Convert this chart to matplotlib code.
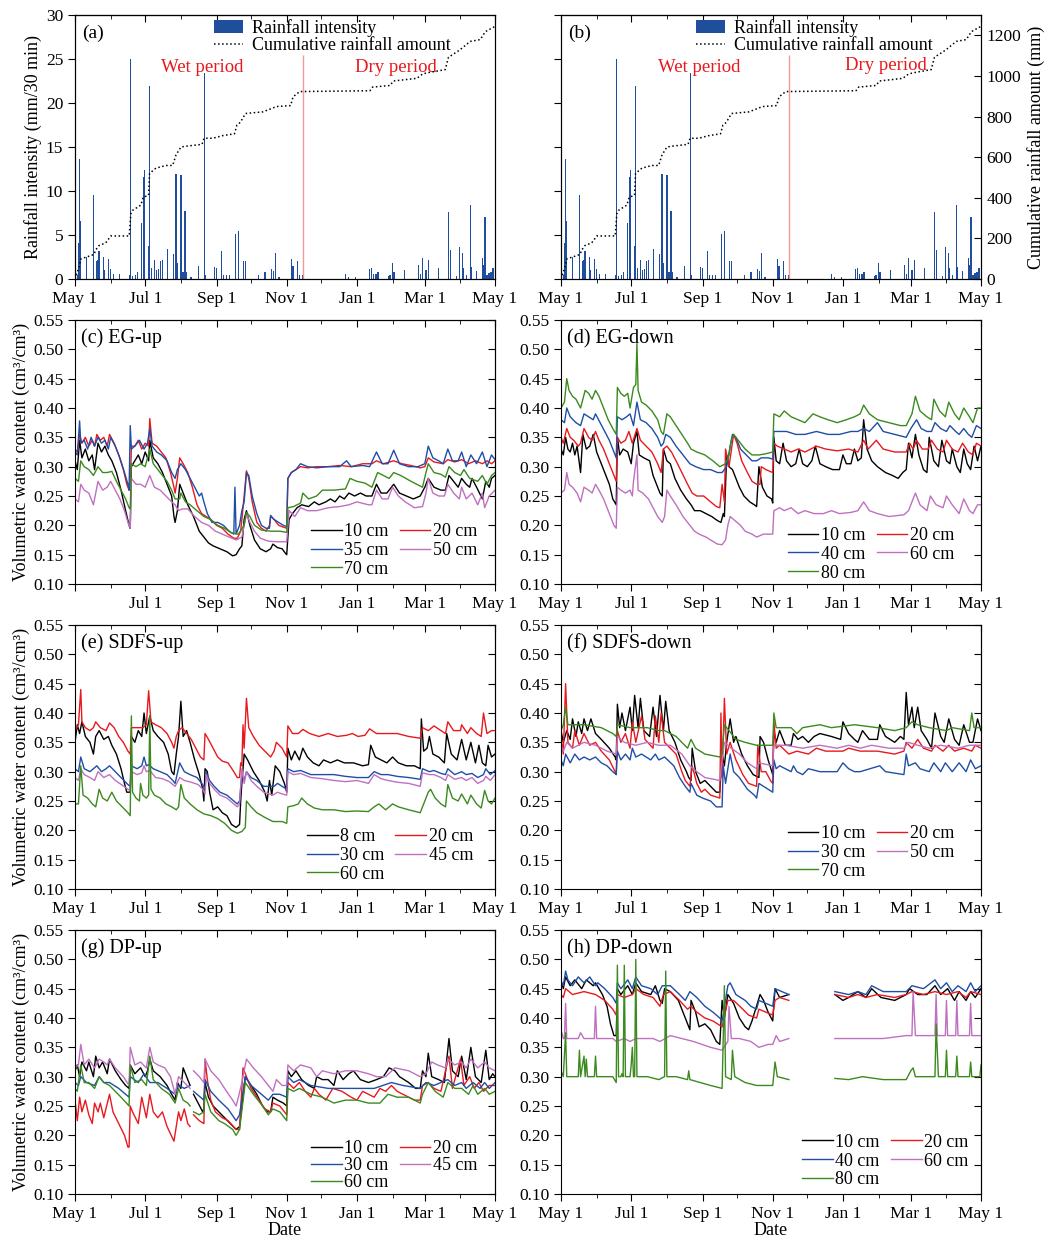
import numpy as np
import matplotlib
matplotlib.use("Agg")
import matplotlib.pyplot as plt
from matplotlib.patches import Patch
from matplotlib.lines import Line2D

plt.rcParams['font.family'] = ['Liberation Serif', 'DejaVu Serif']
plt.rcParams['font.size'] = 13

gap = float('nan')

# days counted from May 1
major_days = [0, 61, 123, 184, 245, 304, 365]
major_labels = ['May 1', 'Jul 1', 'Sep 1', 'Nov 1', 'Jan 1', 'Mar 1', 'May 1']
minor_days = [31, 92, 153, 214, 276, 335]
split_day = 198  # wet / dry boundary

# rainfall intensity (mm/30 min)
rain_day = [0, 2.3, 3.5, 4.1, 4.9, 9.9, 16.3, 18.6, 19.8, 20.9, 24.4, 25.6, 29.1, 30.8, 33.1, 38.4,
            47.1, 48.5, 50.0, 52.3, 54.1, 58.1, 59.3, 60.2, 63.6, 64.8, 66.8, 69.2, 70.9, 72.7, 74.4,
            76.1, 80.5, 85.4, 87.8, 88.6, 91.5, 92.1, 93.9, 95.6, 96.8, 100.8, 107.5, 112.2, 113.3,
            121.5, 123.2, 127.3, 129.0, 131.4, 134.3, 139.5, 142.4, 146.8, 148.2, 159.8, 165.1,
            170.9, 172.6, 174.4, 177.3, 188.3, 189.5, 193.0, 195.3, 197.6, 235.1, 237.7, 243.5,
            256.3, 257.5, 259.2, 261.6, 263.3, 272.3, 273.8, 276.1, 277.2, 286.5, 298.5, 299.9,
            302.2, 304.6, 305.7, 307.5, 316.2, 324.4, 326.1, 331.9, 334.2, 336.5, 337.7, 340.6,
            343.5, 344.9, 348.7, 354.0, 355.1, 356.3, 358.0, 359.8, 361.5, 363.3]
rain_mm = [12.8, 0.5, 4.1, 13.6, 6.6, 2.5, 9.5, 2.0, 2.2, 3.2, 2.5, 1.0, 2.3, 1.1, 0.6, 0.6,
           0.4, 25.0, 0.3, 0.5, 0.8, 6.4, 11.6, 12.4, 3.7, 21.9, 1.2, 2.2, 1.0, 1.1, 2.0,
           2.2, 3.4, 2.8, 11.9, 1.8, 5.8, 11.8, 0.8, 7.7, 0.8, 0.2, 1.5, 23.4, 0.5,
           1.4, 1.3, 3.2, 0.4, 0.4, 0.4, 5.1, 5.5, 2.1, 2.1, 0.4, 0.8,
           1.1, 0.9, 3.0, 0.2, 2.3, 1.5, 2.1, 0.5, 0.4, 0.6, 0.2, 0.2,
           1.1, 1.2, 0.6, 0.6, 0.8, 0.3, 0.4, 1.8, 0.8, 1.0, 1.6, 0.6,
           2.4, 1.0, 1.0, 2.2, 1.2, 7.6, 3.3, 0.3, 3.6, 3.0, 1.3, 0.5,
           8.4, 1.4, 0.9, 2.4, 1.6, 7.0, 0.4, 0.7, 0.8, 1.3]

# cumulative rainfall amount (mm)
cum_day = [0, 0.6, 3.5, 5.2, 9.9, 16.6, 18.0, 20.9, 26.7, 31.1, 47.1, 48.5, 50.0, 57.3, 59.3, 63.9,
           64.8, 70.3, 79.0, 84.9, 87.8, 92.1, 96.5, 110.4, 112.2, 119.7, 128.4, 138.6, 140.7,
           143.6, 148.2, 163.3, 171.5, 174.9, 187.4, 189.5, 195.3, 256.3, 258.6, 273.8, 276.7,
           297.0, 302.2, 308.6, 321.7, 324.6, 334.2, 343.5, 352.2, 356.6, 365]
cum_mm = [0, 9, 61, 100, 108, 121, 143, 165, 178, 212, 212, 321, 338, 364, 403, 412,
          520, 546, 559, 559, 611, 650, 654, 663, 693, 693, 706, 715, 758,
          771, 815, 823, 841, 849, 854, 897, 923, 927, 945, 953, 975,
          988, 1010, 1018, 1031, 1092, 1127, 1170, 1179, 1218, 1244]

# (c) EG-up
c_depths = ['10 cm', '20 cm', '35 cm', '50 cm', '70 cm']
c_10 = [(0,.31),(2,.295),(4,.345),(6,.315),(9,.33),(12,.31),(15,.32),(17,.295),(20,.34),(23,.325),(26,.335),(29,.32),(32,.31),(36,.29),(40,.26),(44,.225),(47,.20),(48,.195),(49,.30),(52,.31),(55,.32),(58,.305),(61,.325),(64,.31),(65,.345),(68,.315),(72,.305),(76,.29),(80,.27),(84,.25),(86,.215),(87,.205),(89,.225),(91,.27),(94,.255),(98,.235),(103,.215),(108,.19),(112,.18),(116,.17),(120,.165),(126,.16),(132,.155),(137,.148),(140,.15),(143,.16),(145,.165),(147,.21),(149,.225),(152,.20),(156,.175),(161,.16),(166,.155),(170,.16),(172,.168),(176,.162),(180,.16),(183,.152),(184,.15),(186,.21),(189,.22),(193,.23),(197,.235),(203,.232),(208,.24),(212,.235),(218,.24),(222,.245),(226,.24),(230,.25),(234,.245),(238,.255),(243,.25),(248,.255),(253,.25),(258,.25),(262,.27),(266,.255),(271,.255),(277,.27),(282,.255),(288,.25),(294,.245),(300,.25),(304,.265),(307,.28),(312,.265),(318,.26),(322,.26),(325,.285),(329,.275),(333,.265),(336,.28),(340,.27),(343,.265),(345,.28),(349,.265),(354,.245),(357,.275),(360,.265),(362,.28),(365,.285)]
c_20 = [(0,.33),(2,.325),(4,.355),(6,.34),(9,.35),(12,.335),(15,.345),(17,.335),(19,.355),(22,.345),(25,.35),(28,.335),(30,.355),(34,.34),(38,.32),(42,.295),(45,.27),(47,.26),(48,.26),(49,.335),(52,.335),(55,.345),(58,.33),(61,.34),(64,.335),(65,.382),(67,.34),(71,.335),(75,.325),(79,.315),(83,.29),(86,.265),(87,.255),(89,.28),(91,.315),(94,.305),(98,.29),(102,.265),(106,.235),(110,.22),(114,.215),(118,.21),(123,.2),(128,.195),(133,.185),(138,.178),(141,.178),(144,.19),(147,.25),(149,.293),(151,.28),(154,.24),(158,.205),(162,.195),(166,.19),(169,.2),(170,.215),(173,.21),(177,.2),(181,.197),(184,.195),(185,.28),(188,.29),(192,.295),(196,.3),(202,.298),(210,.3),(220,.3),(230,.302),(240,.3),(250,.305),(258,.305),(262,.31),(268,.305),(277,.31),(284,.305),(292,.302),(300,.298),(304,.3),(307,.315),(312,.308),(320,.305),(324,.312),(330,.308),(336,.312),(342,.305),(348,.31),(354,.305),(358,.31),(362,.305),(365,.31)]
c_35 = [(0,.325),(2,.32),(4,.378),(5,.34),(8,.345),(11,.33),(14,.35),(17,.335),(20,.35),(23,.34),(26,.345),(29,.33),(31,.35),(35,.335),(39,.315),(43,.29),(46,.27),(47,.26),(48,.37),(49,.33),(52,.335),(56,.345),(60,.33),(63,.34),(65,.365),(67,.335),(71,.325),(75,.32),(80,.31),(84,.29),(87,.28),(89,.295),(92,.305),(96,.295),(100,.28),(104,.265),(108,.25),(110,.255),(112,.24),(115,.22),(119,.205),(124,.205),(129,.2),(134,.19),(138,.185),(139,.265),(140,.185),(143,.2),(145,.225),(147,.24),(149,.29),(151,.285),(154,.25),(158,.22),(162,.2),(166,.195),(169,.195),(170,.217),(173,.21),(177,.205),(181,.2),(184,.198),(185,.28),(188,.29),(192,.295),(196,.305),(202,.3),(210,.298),(220,.3),(230,.3),(236,.31),(240,.3),(250,.302),(256,.3),(262,.325),(267,.305),(272,.305),(277,.328),(282,.305),(290,.3),(298,.3),(304,.305),(307,.335),(311,.315),(316,.31),(320,.305),(324,.33),(328,.31),(333,.31),(336,.325),(340,.3),(344,.32),(349,.305),(354,.325),(358,.3),(362,.32),(365,.312)]
c_50 = [(0,.245),(3,.24),(5,.27),(8,.26),(12,.255),(16,.235),(20,.275),(24,.26),(28,.265),(31,.275),(35,.26),(39,.245),(43,.225),(46,.205),(48,.195),(49,.28),(53,.27),(57,.27),(61,.265),(65,.285),(69,.265),(74,.26),(79,.25),(84,.24),(87,.235),(90,.225),(93,.228),(98,.228),(104,.215),(110,.205),(116,.2),(122,.19),(128,.185),(134,.18),(140,.175),(145,.18),(149,.22),(152,.205),(156,.19),(161,.178),(168,.173),(176,.172),(184,.172),(186,.225),(191,.215),(196,.23),(202,.225),(210,.225),(220,.23),(230,.232),(238,.235),(245,.24),(255,.235),(258,.235),(262,.26),(267,.245),(272,.245),(276,.265),(281,.25),(287,.24),(295,.23),(302,.232),(305,.255),(307,.28),(311,.255),(316,.25),(321,.25),(324,.27),(329,.255),(334,.245),(336,.265),(340,.245),(345,.255),(350,.235),(354,.255),(356,.23),(360,.25),(365,.26)]
c_70 = [(0,.28),(3,.275),(5,.31),(8,.3),(12,.295),(16,.285),(20,.3),(24,.29),(28,.29),(32,.292),(36,.275),(40,.26),(44,.245),(47,.23),(48,.228),(49,.305),(53,.3),(57,.305),(61,.3),(65,.33),(68,.305),(72,.295),(76,.285),(80,.275),(84,.26),(87,.245),(91,.245),(92,.255),(96,.24),(100,.235),(106,.225),(112,.215),(118,.21),(124,.2),(130,.195),(136,.187),(142,.185),(147,.2),(149,.222),(152,.215),(156,.2),(162,.192),(170,.19),(178,.19),(184,.188),(185,.23),(190,.232),(196,.238),(198,.255),(203,.245),(210,.25),(215,.26),(225,.26),(235,.262),(239,.28),(245,.275),(252,.272),(258,.265),(263,.29),(268,.285),(273,.28),(277,.29),(283,.285),(292,.275),(302,.265),(305,.29),(307,.305),(312,.29),(318,.287),(322,.282),(325,.3),(330,.29),(335,.285),(338,.295),(343,.28),(350,.275),(354,.285),(358,.27),(362,.285),(365,.29)]

# (d) EG-down
d_depths = ['10 cm', '20 cm', '40 cm', '60 cm', '80 cm']
d_10 = [(0,.33),(2,.32),(4,.35),(6,.33),(8,.325),(10,.34),(12,.32),(14,.335),(16,.305),(17,.29),(19,.355),(22,.33),(25,.335),(28,.355),(31,.325),(34,.31),(38,.29),(42,.27),(45,.245),(48,.235),(49,.35),(51,.32),(54,.33),(58,.325),(61,.305),(63,.34),(66,.36),(68,.32),(72,.315),(77,.31),(80,.285),(83,.27),(86,.255),(88,.25),(89,.33),(92,.31),(95,.305),(99,.28),(104,.26),(109,.245),(113,.235),(116,.225),(121,.225),(126,.22),(131,.215),(136,.208),(139,.205),(141,.22),(142,.215),(144,.32),(146,.3),(149,.295),(152,.28),(155,.265),(159,.25),(164,.24),(168,.235),(170,.232),(172,.3),(175,.265),(179,.25),(183,.245),(184,.238),(185,.35),(187,.31),(190,.305),(193,.34),(196,.31),(200,.30),(204,.305),(207,.33),(210,.305),(214,.30),(218,.31),(221,.335),(225,.305),(230,.30),(236,.295),(242,.295),(245,.32),(248,.305),(252,.305),(255,.33),(258,.31),(261,.315),(263,.38),(266,.33),(270,.31),(275,.30),(282,.29),(288,.285),(293,.28),(297,.29),(300,.295),(302,.34),(305,.315),(308,.355),(311,.32),(315,.295),(318,.29),(320,.35),(324,.31),(328,.3),(331,.345),(335,.31),(338,.305),(340,.33),(344,.3),(347,.29),(350,.33),(353,.305),(356,.295),(359,.335),(362,.31),(365,.335)]
d_20 = [(0,.35),(2,.34),(5,.365),(8,.35),(11,.345),(15,.335),(17,.34),(20,.365),(24,.35),(27,.345),(30,.36),(33,.345),(37,.33),(41,.31),(45,.29),(48,.275),(49,.35),(52,.34),(56,.345),(59,.36),(62,.34),(66,.365),(69,.345),(74,.335),(79,.325),(84,.305),(87,.29),(89,.33),(92,.335),(96,.325),(100,.31),(105,.29),(110,.27),(114,.255),(118,.25),(124,.25),(130,.24),(135,.232),(138,.23),(140,.27),(142,.24),(143,.33),(146,.30),(150,.355),(153,.34),(157,.31),(162,.29),(166,.275),(170,.27),(173,.27),(174,.30),(178,.295),(184,.29),(185,.34),(188,.335),(194,.33),(200,.325),(206,.33),(212,.325),(222,.335),(230,.33),(240,.327),(250,.33),(258,.325),(263,.345),(267,.33),(274,.345),(280,.33),(290,.325),(300,.325),(303,.34),(306,.33),(309,.345),(314,.33),(319,.33),(322,.345),(327,.33),(332,.325),(335,.345),(340,.33),(345,.325),(349,.34),(354,.325),(358,.32),(361,.34),(365,.335)]
d_40 = [(0,.38),(3,.375),(5,.40),(8,.385),(13,.375),(17,.37),(20,.39),(24,.385),(28,.38),(30,.39),(34,.375),(38,.36),(42,.345),(46,.325),(48,.315),(49,.385),(53,.38),(57,.385),(60,.39),(63,.37),(66,.41),(69,.38),(74,.375),(79,.365),(84,.35),(87,.335),(89,.34),(91,.355),(95,.35),(100,.335),(106,.32),(112,.305),(117,.3),(124,.295),(130,.295),(136,.29),(140,.29),(144,.3),(147,.335),(149,.355),(152,.35),(156,.33),(161,.32),(166,.31),(170,.31),(174,.315),(180,.315),(184,.313),(185,.36),(190,.36),(196,.36),(204,.355),(212,.355),(222,.36),(232,.355),(242,.355),(252,.36),(258,.36),(263,.365),(268,.36),(275,.375),(280,.36),(290,.355),(300,.35),(304,.365),(309,.38),(313,.365),(318,.36),(322,.36),(325,.375),(330,.365),(335,.36),(338,.37),(343,.36),(346,.355),(350,.365),(354,.355),(357,.35),(361,.37),(365,.365)]
d_60 = [(0,.255),(3,.26),(5,.29),(7,.27),(10,.265),(14,.255),(17,.24),(20,.265),(24,.26),(27,.255),(30,.27),(33,.26),(37,.245),(42,.22),(46,.2),(48,.195),(49,.265),(52,.26),(56,.255),(60,.26),(62,.25),(63,.275),(66,.32),(67,.26),(71,.255),(76,.245),(80,.23),(84,.215),(88,.205),(90,.215),(92,.26),(95,.25),(100,.235),(106,.215),(112,.2),(116,.19),(120,.185),(126,.18),(130,.175),(136,.168),(140,.167),(143,.175),(145,.2),(147,.215),(150,.21),(156,.2),(160,.19),(166,.185),(170,.18),(176,.185),(184,.185),(185,.225),(190,.23),(194,.225),(200,.23),(206,.22),(212,.225),(220,.22),(228,.22),(235,.225),(242,.22),(252,.222),(258,.225),(263,.24),(268,.225),(275,.22),(285,.215),(298,.218),(302,.225),(308,.255),(312,.235),(318,.225),(321,.25),(326,.235),(332,.23),(335,.25),(340,.235),(346,.22),(350,.245),(355,.225),(358,.22),(362,.235),(365,.235)]
d_80 = [(0,.40),(3,.41),(5,.45),(7,.43),(10,.42),(13,.415),(17,.40),(21,.43),(24,.425),(27,.415),(30,.43),(33,.42),(37,.40),(41,.38),(45,.365),(48,.355),(49,.435),(52,.425),(55,.42),(58,.425),(60,.40),(63,.435),(65,.44),(66,.51),(67,.43),(70,.41),(74,.405),(79,.395),(84,.38),(87,.36),(89,.355),(92,.39),(95,.385),(100,.37),(105,.355),(110,.34),(113,.33),(118,.325),(125,.32),(132,.31),(138,.30),(143,.305),(146,.32),(148,.345),(150,.355),(154,.345),(160,.33),(166,.32),(172,.32),(178,.322),(184,.325),(185,.39),(190,.385),(194,.395),(200,.385),(206,.38),(212,.375),(219,.39),(225,.385),(232,.38),(240,.375),(248,.38),(255,.385),(260,.39),(263,.405),(268,.39),(275,.38),(285,.375),(295,.37),(300,.37),(305,.39),(308,.42),(312,.395),(318,.385),(322,.38),(324,.415),(329,.395),(334,.385),(337,.41),(342,.39),(346,.38),(350,.40),(355,.385),(358,.375),(362,.40),(365,.40)]

# (e) SDFS-up
e_depths = ['8 cm', '20 cm', '30 cm', '45 cm', '60 cm']
e_8 = [(0,.35),(2,.38),(4,.365),(6,.385),(9,.36),(13,.35),(16,.33),(18,.36),(21,.37),(25,.355),(29,.36),(32,.345),(36,.33),(40,.305),(43,.28),(45,.265),(48,.265),(49,.36),(52,.35),(55,.37),(58,.36),(60,.40),(62,.365),(65,.395),(68,.37),(72,.36),(77,.35),(81,.33),(84,.30),(86,.295),(88,.33),(90,.36),(92,.42),(94,.36),(97,.37),(100,.35),(104,.32),(108,.295),(111,.27),(112,.25),(113,.305),(115,.30),(117,.265),(120,.235),(124,.24),(128,.23),(132,.225),(136,.21),(140,.205),(143,.21),(144,.25),(145,.28),(147,.33),(150,.32),(155,.30),(160,.285),(165,.265),(167,.25),(169,.285),(171,.26),(174,.31),(178,.30),(182,.28),(184,.265),(185,.34),(188,.32),(191,.335),(195,.32),(198,.34),(202,.325),(207,.315),(212,.31),(216,.32),(222,.315),(228,.32),(234,.315),(242,.315),(250,.31),(255,.312),(257,.345),(261,.325),(266,.32),(271,.315),(276,.325),(281,.315),(288,.31),(295,.31),(300,.305),(301,.39),(303,.335),(306,.34),(308,.36),(311,.33),(316,.325),(321,.315),(323,.365),(327,.33),(332,.32),(336,.355),(340,.32),(344,.35),(348,.315),(351,.345),(354,.315),(357,.31),(359,.345),(362,.325),(365,.33)]
e_20 = [(0,.37),(3,.38),(5,.44),(6,.385),(9,.375),(13,.37),(16,.375),(18,.385),(22,.375),(27,.37),(30,.383),(34,.375),(38,.36),(42,.35),(46,.335),(48,.33),(49,.375),(54,.375),(59,.375),(62,.38),(64,.438),(66,.385),(70,.38),(75,.375),(80,.365),(84,.35),(86,.34),(88,.36),(90,.37),(93,.375),(97,.365),(101,.355),(105,.34),(109,.325),(112,.32),(113,.365),(116,.355),(120,.34),(124,.325),(128,.318),(133,.315),(138,.3),(141,.29),(143,.29),(144,.315),(145,.31),(146,.38),(147,.34),(149,.425),(151,.375),(155,.36),(160,.345),(165,.335),(170,.325),(173,.335),(175,.35),(180,.34),(184,.325),(185,.378),(189,.365),(194,.365),(198,.372),(204,.365),(212,.36),(220,.365),(228,.36),(236,.362),(241,.365),(246,.36),(252,.362),(256,.373),(262,.365),(270,.365),(280,.365),(290,.36),(300,.357),(302,.375),(307,.37),(312,.378),(318,.37),(322,.365),(324,.385),(329,.37),(335,.37),(336,.38),(341,.365),(344,.375),(349,.365),(353,.36),(355,.40),(358,.365),(362,.37),(365,.37)]
e_30 = [(0,.305),(3,.30),(5,.325),(8,.305),(13,.30),(16,.305),(19,.31),(23,.30),(27,.305),(30,.31),(35,.30),(41,.288),(46,.278),(48,.275),(49,.31),(54,.305),(58,.31),(60,.325),(62,.31),(64,.312),(68,.305),(74,.3),(80,.295),(85,.285),(87,.28),(91,.315),(95,.30),(100,.295),(106,.29),(111,.278),(113,.27),(114,.3),(117,.285),(121,.275),(126,.265),(132,.26),(138,.25),(141,.245),(143,.25),(145,.295),(147,.285),(149,.30),(153,.29),(158,.285),(164,.275),(170,.275),(173,.275),(176,.28),(180,.275),(184,.27),(185,.305),(190,.3),(196,.302),(205,.295),(215,.295),(225,.295),(235,.292),(245,.29),(255,.29),(260,.3),(266,.295),(272,.295),(280,.292),(290,.29),(300,.287),(302,.305),(308,.3),(312,.302),(318,.297),(322,.295),(324,.305),(330,.295),(336,.3),(340,.295),(345,.297),(350,.29),(355,.295),(357,.305),(361,.295),(365,.302)]
e_45 = [(0,.29),(3,.285),(5,.305),(8,.295),(13,.29),(17,.285),(20,.30),(25,.29),(30,.295),(35,.285),(41,.277),(46,.27),(48,.268),(49,.30),(54,.295),(58,.298),(60,.31),(62,.30),(65,.302),(70,.29),(76,.288),(82,.283),(87,.275),(91,.29),(95,.285),(101,.282),(107,.278),(111,.27),(113,.262),(114,.295),(117,.28),(121,.27),(126,.26),(132,.255),(138,.245),(141,.24),(143,.245),(145,.305),(147,.28),(149,.30),(153,.285),(158,.275),(164,.265),(172,.26),(176,.265),(180,.262),(184,.26),(185,.30),(190,.295),(196,.297),(205,.29),(215,.288),(225,.285),(235,.283),(245,.285),(255,.28),(260,.295),(266,.288),(272,.285),(280,.282),(290,.28),(300,.275),(302,.298),(308,.295),(312,.295),(318,.29),(322,.285),(324,.295),(330,.287),(336,.29),(340,.285),(345,.29),(350,.28),(355,.285),(357,.292),(361,.285),(365,.295)]
e_60 = [(0,.245),(3,.245),(5,.31),(7,.26),(11,.255),(15,.245),(18,.24),(21,.27),(24,.255),(28,.25),(32,.265),(36,.25),(41,.24),(46,.23),(48,.225),(49,.395),(50,.265),(53,.255),(56,.25),(57,.28),(59,.26),(62,.255),(64,.26),(65,.395),(66,.27),(69,.26),(74,.255),(79,.245),(84,.24),(88,.235),(90,.24),(92,.278),(95,.255),(100,.245),(106,.235),(112,.228),(118,.225),(124,.22),(130,.212),(136,.2),(141,.195),(145,.198),(148,.205),(149,.25),(153,.24),(158,.23),(165,.222),(172,.215),(180,.215),(184,.212),(185,.24),(190,.242),(194,.245),(197,.255),(202,.245),(208,.238),(215,.235),(225,.235),(235,.232),(245,.233),(255,.232),(260,.24),(264,.245),(270,.235),(276,.245),(281,.24),(290,.235),(300,.23),(303,.245),(307,.265),(309,.27),(313,.255),(318,.245),(322,.24),(324,.278),(328,.255),(333,.25),(336,.262),(341,.245),(344,.26),(349,.245),(353,.238),(356,.268),(359,.25),(362,.245),(365,.255)]

# (f) SDFS-down
f_depths = ['10 cm', '20 cm', '30 cm', '50 cm', '70 cm']
f_10 = [(0,.37),(2,.35),(5,.37),(8,.355),(10,.39),(13,.36),(15,.385),(18,.365),(20,.39),(23,.37),(26,.39),(30,.365),(35,.355),(42,.34),(47,.325),(48,.32),(49,.415),(51,.375),(53,.40),(56,.37),(60,.41),(62,.37),(64,.43),(67,.375),(69,.425),(72,.37),(77,.36),(80,.41),(83,.36),(86,.43),(89,.37),(91,.42),(94,.37),(99,.35),(104,.32),(109,.30),(111,.29),(113,.285),(114,.34),(117,.30),(121,.28),(125,.285),(130,.275),(135,.265),(138,.265),(140,.33),(142,.31),(144,.35),(147,.39),(150,.35),(152,.36),(157,.33),(162,.31),(167,.295),(172,.29),(173,.36),(176,.35),(180,.32),(184,.295),(185,.37),(187,.35),(190,.37),(195,.345),(200,.345),(202,.365),(206,.355),(210,.36),(215,.35),(220,.36),(225,.365),(235,.36),(243,.355),(245,.385),(250,.365),(255,.355),(258,.35),(262,.37),(268,.355),(275,.355),(277,.38),(282,.36),(290,.35),(295,.36),(298,.355),(300,.435),(302,.38),(305,.41),(307,.375),(310,.41),(313,.37),(318,.355),(322,.34),(325,.40),(330,.36),(333,.35),(337,.39),(342,.355),(346,.345),(350,.38),(355,.35),(358,.35),(362,.39),(365,.37)]
f_20 = [(0,.36),(2,.33),(4,.45),(6,.35),(10,.34),(12,.37),(16,.345),(20,.365),(25,.345),(30,.35),(35,.335),(42,.32),(47,.30),(48,.295),(49,.37),(52,.35),(56,.365),(60,.34),(62,.385),(65,.35),(70,.395),(73,.355),(80,.34),(82,.395),(85,.35),(87,.40),(90,.35),(100,.33),(105,.30),(108,.285),(112,.275),(114,.31),(118,.28),(122,.265),(125,.27),(130,.26),(138,.255),(139,.40),(140,.29),(142,.425),(144,.33),(147,.35),(152,.32),(158,.295),(163,.28),(170,.275),(171,.345),(174,.30),(178,.30),(182,.285),(184,.28),(185,.385),(187,.34),(190,.345),(198,.33),(205,.335),(215,.33),(222,.34),(230,.335),(245,.335),(250,.34),(260,.335),(275,.335),(290,.33),(298,.335),(300,.35),(305,.34),(310,.355),(315,.34),(322,.335),(325,.345),(332,.335),(337,.345),(342,.335),(350,.34),(357,.335),(360,.345),(365,.34)]
f_30 = [(0,.32),(2,.31),(4,.33),(8,.315),(12,.33),(16,.32),(20,.325),(25,.32),(30,.325),(35,.315),(40,.31),(45,.30),(48,.295),(49,.335),(52,.32),(56,.33),(60,.32),(62,.34),(65,.325),(70,.33),(78,.32),(82,.33),(85,.32),(90,.325),(98,.31),(103,.29),(108,.275),(112,.265),(113,.28),(118,.26),(123,.255),(130,.25),(135,.24),(140,.24),(141,.31),(143,.28),(147,.33),(150,.30),(155,.29),(162,.27),(168,.26),(170,.255),(172,.28),(180,.27),(184,.265),(185,.32),(187,.305),(190,.31),(195,.305),(200,.30),(202,.31),(205,.30),(210,.295),(215,.305),(225,.30),(240,.30),(245,.315),(250,.305),(255,.30),(260,.30),(277,.31),(282,.30),(298,.295),(300,.33),(302,.31),(308,.315),(312,.305),(320,.30),(324,.315),(330,.30),(334,.315),(340,.30),(346,.315),(352,.30),(356,.32),(360,.305),(365,.31)]
f_50 = [(0,.345),(2,.335),(5,.35),(10,.34),(20,.35),(30,.345),(40,.335),(48,.33),(49,.36),(55,.35),(65,.345),(75,.35),(85,.345),(95,.345),(105,.33),(112,.31),(118,.30),(125,.29),(138,.285),(140,.32),(142,.35),(148,.34),(155,.33),(162,.315),(170,.305),(172,.315),(184,.31),(185,.345),(195,.345),(210,.34),(225,.345),(240,.34),(250,.345),(260,.34),(270,.345),(285,.34),(298,.34),(302,.35),(310,.345),(320,.34),(330,.345),(345,.34),(355,.345),(365,.345)]
f_70 = [(0,.37),(2,.38),(4,.41),(6,.38),(20,.38),(35,.375),(45,.365),(48,.36),(49,.38),(60,.375),(75,.375),(85,.37),(90,.37),(100,.36),(110,.34),(113,.355),(117,.34),(125,.33),(138,.325),(140,.33),(142,.38),(148,.365),(152,.355),(160,.35),(170,.345),(184,.345),(185,.40),(187,.375),(200,.375),(205,.365),(210,.375),(225,.38),(235,.375),(255,.38),(275,.375),(290,.37),(300,.375),(305,.385),(310,.38),(320,.375),(335,.37),(340,.375),(355,.37),(357,.40),(359,.375),(365,.375)]

# (g) DP-up
g_depths = ['10 cm', '20 cm', '30 cm', '45 cm', '60 cm']
g_10 = [(0,.31),(2,.32),(4,.30),(6,.325),(10,.31),(12,.325),(16,.30),(18,.335),(21,.315),(24,.325),(28,.305),(30,.33),(35,.31),(40,.295),(44,.285),(47,.28),(48,.32),(52,.305),(57,.315),(61,.30),(63,.31),(65,.33),(68,.31),(74,.30),(80,.285),(84,.27),(87,.26),(89,.29),(92,.28),(94,.315),(97,.30),(100,.285),(101,gap),(103,.27),(107,.255),(111,.24),(112,.245),(113,.29),(116,.265),(120,.25),(125,.24),(130,.23),(135,.22),(140,.21),(143,.215),(145,.25),(148,.30),(153,.285),(158,.27),(163,.25),(167,.24),(170,.24),(172,.265),(176,.26),(181,.255),(184,.25),(185,.31),(188,.30),(192,.31),(197,.295),(203,.285),(208,.28),(210,.30),(215,.295),(220,.295),(225,.285),(228,.31),(233,.295),(238,.305),(242,.31),(248,.295),(255,.29),(262,.295),(268,.30),(273,.315),(278,.31),(282,.30),(290,.29),(296,.28),(300,.28),(302,.31),(305,.30),(307,.34),(310,.30),(316,.295),(321,.29),(325,.365),(328,.31),(333,.30),(336,.335),(340,.295),(344,.35),(348,.30),(353,.29),(357,.345),(360,.295),(363,.305),(365,.30)]
g_20 = [(0,.26),(2,.225),(4,.265),(6,.24),(9,.26),(12,.235),(15,.22),(17,.255),(20,.24),(22,.255),(25,.23),(30,.27),(33,.24),(38,.22),(43,.20),(46,.18),(47,.18),(48,.25),(50,.24),(55,.22),(58,.265),(62,.23),(65,.27),(68,.24),(72,.23),(76,.24),(80,.215),(86,.19),(88,.215),(90,.24),(92,.225),(95,.245),(98,.22),(100,.215),(101,gap),(103,.235),(108,.225),(112,.22),(113,.33),(115,.295),(118,.26),(122,.24),(128,.23),(133,.225),(140,.21),(143,.21),(146,.315),(149,.30),(153,.28),(160,.26),(165,.245),(170,.24),(172,.255),(178,.25),(184,.235),(185,.29),(190,.28),(195,.29),(200,.275),(205,.265),(208,.28),(212,.27),(218,.26),(224,.28),(232,.275),(240,.265),(245,.26),(250,.275),(255,.27),(260,.265),(265,.28),(270,.275),(275,.285),(280,.275),(285,.27),(295,.26),(300,.26),(302,.285),(307,.29),(312,.28),(318,.275),(322,.31),(325,.335),(328,.28),(335,.33),(338,.285),(343,.30),(347,.28),(351,.29),(355,.275),(360,.285),(365,.285)]
g_30 = [(0,.29),(3,.285),(5,.30),(10,.29),(17,.285),(21,.30),(25,.29),(30,.29),(38,.28),(47,.265),(48,.30),(55,.29),(60,.305),(65,.29),(72,.29),(80,.28),(87,.27),(90,.285),(95,.28),(100,.285),(101,gap),(103,.275),(112,.26),(113,.295),(118,.275),(125,.26),(133,.245),(140,.225),(143,.235),(148,.30),(153,.285),(162,.27),(168,.26),(172,.27),(178,.27),(184,.265),(185,.30),(190,.29),(195,.295),(205,.285),(220,.28),(240,.28),(260,.28),(275,.29),(285,.285),(300,.28),(305,.29),(312,.285),(324,.295),(330,.285),(336,.29),(340,.28),(346,.29),(352,.28),(356,.29),(360,.28),(365,.29)]
g_45 = [(0,.315),(3,.32),(5,.355),(8,.32),(12,.33),(17,.315),(21,.33),(25,.325),(28,.32),(30,.33),(35,.315),(42,.30),(47,.285),(48,.35),(52,.32),(57,.325),(62,.315),(65,.35),(68,.325),(72,.32),(78,.315),(83,.30),(87,.27),(90,.30),(95,.29),(100,.28),(101,gap),(103,.31),(108,.30),(112,.29),(113,.33),(118,.31),(125,.295),(130,.28),(137,.26),(140,.25),(142,.265),(145,.29),(149,.33),(155,.315),(162,.30),(168,.285),(172,.275),(175,.295),(180,.285),(184,.285),(185,.32),(190,.31),(196,.32),(205,.315),(210,.30),(215,.31),(225,.305),(235,.31),(245,.31),(255,.305),(262,.30),(270,.30),(278,.315),(290,.31),(300,.30),(305,.305),(310,.325),(315,.32),(322,.315),(324,.33),(330,.32),(336,.325),(340,.315),(344,.33),(350,.315),(356,.325),(360,.315),(365,.31)]
g_60 = [(0,.28),(2,.275),(5,.32),(8,.29),(12,.29),(17,.28),(21,.30),(25,.29),(30,.285),(40,.265),(47,.25),(48,.32),(52,.29),(58,.295),(62,.285),(65,.335),(68,.295),(75,.28),(82,.27),(87,.255),(90,.28),(94,.26),(98,.255),(100,.25),(101,gap),(103,.24),(108,.235),(112,.24),(113,.27),(118,.24),(125,.225),(130,.22),(137,.21),(140,.20),(143,.21),(148,.29),(155,.27),(163,.25),(168,.235),(172,.245),(178,.24),(184,.225),(185,.28),(190,.275),(195,.28),(205,.27),(215,.265),(225,.255),(235,.26),(245,.26),(255,.255),(265,.255),(272,.27),(280,.265),(290,.265),(300,.255),(302,.27),(307,.29),(313,.275),(320,.265),(324,.29),(330,.28),(336,.28),(342,.27),(346,.285),(350,.27),(356,.28),(360,.27),(365,.275)]

# (h) DP-down
h_depths = ['10 cm', '20 cm', '40 cm', '60 cm', '80 cm']
h_10 = [(0,.465),(2,.45),(4,.47),(8,.455),(12,.465),(18,.45),(22,.465),(28,.455),(30,.46),(36,.44),(40,.42),(43,.39),(46,.37),(48,.37),(49,.45),(52,.44),(58,.455),(62,.44),(65,.46),(70,.445),(78,.44),(82,.455),(86,.43),(88,.425),(90,.45),(95,.445),(102,.43),(108,.40),(112,.38),(113,.43),(117,.41),(120,.385),(125,.39),(130,.38),(135,.36),(138,.355),(140,.43),(142,.40),(145,.44),(150,.425),(155,.40),(160,.385),(163,.38),(166,.395),(173,.44),(176,.43),(180,.41),(184,.395),(186,.45),(190,.435),(198,.44),(199,gap),(238,.44),(245,.43),(250,.435),(258,.445),(265,.435),(270,.45),(278,.435),(290,.43),(300,.44),(303,.45),(310,.44),(318,.44),(325,.455),(330,.44),(336,.45),(342,.43),(346,.445),(352,.43),(356,.445),(360,.435),(365,.45)]
h_20 = [(0,.44),(2,.435),(4,.45),(10,.44),(20,.445),(30,.44),(38,.43),(45,.415),(48,.405),(49,.44),(55,.435),(62,.44),(65,.45),(72,.44),(80,.435),(86,.42),(89,.44),(95,.445),(103,.43),(110,.415),(113,.42),(118,.41),(125,.40),(132,.395),(140,.385),(145,.43),(150,.43),(158,.415),(163,.405),(170,.40),(172,.415),(178,.41),(184,.405),(186,.43),(190,.435),(198,.43),(199,gap),(238,.44),(250,.435),(258,.44),(265,.435),(275,.44),(290,.435),(300,.44),(305,.445),(315,.44),(325,.445),(335,.44),(345,.445),(352,.435),(356,.445),(365,.44)]
h_40 = [(0,.46),(2,.455),(4,.48),(6,.465),(10,.455),(15,.47),(20,.46),(25,.47),(30,.455),(32,.46),(38,.45),(45,.435),(48,.425),(49,.46),(52,.45),(58,.465),(62,.45),(65,.47),(70,.455),(78,.45),(84,.44),(88,.455),(95,.455),(103,.44),(108,.43),(112,.445),(118,.435),(125,.42),(132,.41),(138,.40),(140,.395),(145,.455),(147,.46),(152,.44),(160,.43),(165,.42),(170,.415),(172,.43),(178,.425),(184,.42),(186,.45),(192,.445),(198,.44),(199,gap),(238,.445),(250,.44),(258,.445),(265,.44),(270,.455),(280,.445),(300,.445),(305,.455),(315,.45),(325,.465),(330,.45),(335,.46),(340,.445),(345,.455),(352,.445),(356,.46),(360,.445),(365,.455)]
h_60 = [(0,.38),(2,.365),(3,.365),(4,.425),(5,.365),(15,.365),(17,.375),(20,.365),(29,.365),(30,.42),(31,.365),(45,.365),(48,.36),(55,.365),(60,.36),(65,.365),(80,.365),(86,.36),(95,.37),(105,.365),(115,.36),(130,.35),(140,.345),(145,.36),(146,.42),(148,.365),(155,.365),(165,.36),(172,.35),(180,.355),(184,.355),(187,.37),(190,.36),(198,.365),(199,gap),(238,.365),(260,.365),(280,.365),(300,.37),(305,.37),(306,.445),(308,.37),(325,.37),(326,.44),(327,.37),(334,.37),(335,.43),(336,.37),(343,.37),(344,.43),(345,.37),(355,.37),(356,.425),(357,.37),(365,.37)]
h_80 = [(0,.31),(2,.30),(4,.375),(5,.30),(15,.30),(16,.345),(17,.30),(20,.335),(21,.30),(22,.33),(23,.30),(29,.30),(30,.335),(31,.30),(45,.30),(48,.29),(49,.49),(50,.30),(52,.30),(53,.305),(54,.30),(55,.49),(56,.30),(60,.30),(61,.32),(62,.35),(63,.30),(64,.30),(65,.50),(66,.30),(75,.30),(85,.295),(90,.30),(91,.48),(92,.30),(100,.30),(110,.295),(111,.31),(112,.295),(130,.285),(140,.28),(142,.455),(143,.30),(148,.295),(149,.345),(151,.30),(160,.29),(170,.285),(184,.285),(186,.325),(188,.30),(198,.295),(199,gap),(238,.297),(250,.295),(262,.30),(280,.295),(300,.295),(304,.31),(306,.315),(308,.30),(325,.30),(326,.39),(328,.30),(334,.30),(335,.345),(336,.30),(343,.30),(344,.335),(345,.30),(355,.30),(356,.325),(357,.30),(364,.30),(365,.32)]

depth_colors = ['#000000', '#e8191e', '#1f4ea6', '#c070c0', '#3b8a1f']
bar_color = '#1f4e9c'

W, H = 1050, 1241
col_left = [75 / W, 561 / W]
ax_w = 420 / W
ax_h = 264 / H
row_bottom = [(H - 279) / H, (H - 584) / H, (H - 889) / H, (H - 1194) / H]


def style_dates(ax, show_first=True):
    ax.set_xlim(0, 365)
    labels = list(major_labels)
    if not show_first:
        labels[0] = ''
    ax.set_xticks(major_days)
    ax.set_xticklabels(labels)
    ax.set_xticks(minor_days, minor=True)
    # outward ticks on the labelled sides
    ax.tick_params(which='both', direction='out', top=False, right=False, labelsize=12.5)
    ax.tick_params(which='major', length=5)
    ax.tick_params(which='minor', length=3)
    # inward ticks along the top edge
    top = ax.secondary_xaxis('top')
    top.set_xticks(major_days)
    top.set_xticks(minor_days, minor=True)
    top.tick_params(which='both', direction='in', labeltop=False)
    top.tick_params(which='major', length=5)
    top.tick_params(which='minor', length=3)


def right_ticks(ax, ticks):
    right = ax.secondary_yaxis('right')
    right.set_yticks(ticks)
    right.tick_params(direction='in', length=5, labelright=False)


def rain_panel(ax, tag, right_axis):
    ax.bar(rain_day, rain_mm, width=1.0, color=bar_color, linewidth=0)
    ax.set_ylim(0, 30)
    ax.set_yticks(range(0, 31, 5))
    style_dates(ax)
    ax2 = ax.twinx()
    ax2.plot(cum_day, cum_mm, color='black', ls=':', lw=1.1)
    ax2.set_ylim(0, 1300)
    ax.vlines(split_day, 0, 25.5, color='#f19a9a', lw=1)
    if right_axis:
        ax.tick_params(labelleft=False)
        ax2.set_yticks(range(0, 1201, 200))
        ax2.tick_params(direction='in', labelsize=12.5, length=5, pad=4)
        ax2.set_ylabel('Cumulative rainfall amount (mm)', fontsize=13, labelpad=4)
        wet_x, dry_x, dry_y, leg_x = 0.329, 0.774, 0.81, 0.321
    else:
        ax2.set_yticks([])
        ax.set_ylabel('Rainfall intensity (mm/30 min)', fontsize=13, labelpad=3)
        wet_x, dry_x, dry_y, leg_x = 0.302, 0.764, 0.80, 0.331
    ax.text(0.017, 0.932, tag, transform=ax.transAxes, va='center', fontsize=14)
    ax.text(wet_x, 0.803, 'Wet period', transform=ax.transAxes, ha='center', va='center',
            color='#e8191e', fontsize=13.5)
    ax.text(dry_x, dry_y, 'Dry period', transform=ax.transAxes, ha='center', va='center',
            color='#e8191e', fontsize=13.5)
    handles = [Patch(facecolor=bar_color, edgecolor='none'),
               Line2D([], [], color='black', ls=':', lw=1.1)]
    ax.legend(handles, ['Rainfall intensity', 'Cumulative rainfall amount'], loc='upper left',
              bbox_to_anchor=(leg_x, 0.985), frameon=False, borderpad=0, borderaxespad=0,
              handlelength=1.6, handleheight=0.7, handletextpad=0.5, labelspacing=0.0,
              fontsize=13)


def moisture_panel(ax, tag, series, depths, leg_anchor, show_first=True, left_label=False,
                   spacing=0.1):
    lines = []
    for pts, lab, col in zip(series, depths, depth_colors):
        d, v = np.array(pts, dtype=float).T
        ln, = ax.plot(d, v, color=col, lw=1.0, label=lab)
        lines.append(ln)
    yt = np.arange(0.10, 0.551, 0.05)
    ax.set_ylim(0.10, 0.55)
    ax.set_yticks(yt)
    ax.set_yticklabels([f'{t:.2f}' for t in yt])
    style_dates(ax, show_first)
    right_ticks(ax, yt)
    ax.text(0.015, 0.93, tag, transform=ax.transAxes, va='center', fontsize=14.5)
    if left_label:
        ax.set_ylabel('Volumetric water content (cm³/cm³)', fontsize=13, labelpad=2)
    order = [0, 2, 4, 1, 3]
    ax.legend([lines[i] for i in order], [depths[i] for i in order], ncol=2,
              loc='upper left', bbox_to_anchor=leg_anchor, frameon=False, borderpad=0,
              borderaxespad=0, handlelength=1.7, handletextpad=0.15, labelspacing=spacing,
              columnspacing=0.6, fontsize=13)


fig = plt.figure(figsize=(W / 100, H / 100), dpi=100)

ax_a = fig.add_axes([col_left[0], row_bottom[0], ax_w, ax_h])
ax_b = fig.add_axes([col_left[1], row_bottom[0], ax_w, ax_h])
rain_panel(ax_a, '(a)', right_axis=False)
rain_panel(ax_b, '(b)', right_axis=True)

ax_c = fig.add_axes([col_left[0], row_bottom[1], ax_w, ax_h])
ax_d = fig.add_axes([col_left[1], row_bottom[1], ax_w, ax_h])
ax_e = fig.add_axes([col_left[0], row_bottom[2], ax_w, ax_h])
ax_f = fig.add_axes([col_left[1], row_bottom[2], ax_w, ax_h])
ax_g = fig.add_axes([col_left[0], row_bottom[3], ax_w, ax_h])
ax_h = fig.add_axes([col_left[1], row_bottom[3], ax_w, ax_h])

moisture_panel(ax_c, '(c) EG-up', [c_10, c_20, c_35, c_50, c_70], c_depths,
               (0.562, 0.231), show_first=False, left_label=True)
moisture_panel(ax_d, '(d) EG-down', [d_10, d_20, d_40, d_60, d_80], d_depths,
               (0.540, 0.216))
moisture_panel(ax_e, '(e) SDFS-up', [e_8, e_20, e_30, e_45, e_60], e_depths,
               (0.552, 0.231), left_label=True)
moisture_panel(ax_f, '(f) SDFS-down', [f_10, f_20, f_30, f_50, f_70], f_depths,
               (0.540, 0.242))
moisture_panel(ax_g, '(g) DP-up', [g_10, g_20, g_30, g_45, g_60], g_depths,
               (0.562, 0.205), left_label=True, spacing=0.0)
moisture_panel(ax_h, '(h) DP-down', [h_10, h_20, h_40, h_60, h_80], h_depths,
               (0.574, 0.228))

ax_g.set_xlabel('Date', fontsize=13, labelpad=0)
ax_h.set_xlabel('Date', fontsize=13, labelpad=0)

fig.savefig('out.png', dpi=100)
